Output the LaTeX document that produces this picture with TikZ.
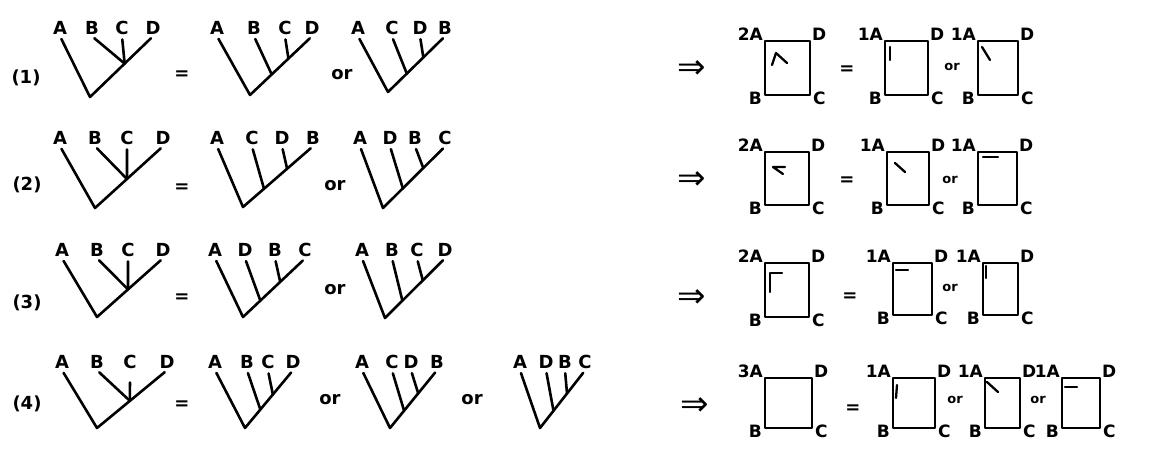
\documentclass[tikz,border=0pt]{standalone}
\usepackage{fontspec}
\setmainfont{DejaVu Sans}
\usetikzlibrary{calc}

\tikzset{
  lbl/.style={inner sep=1.5pt, font=\bfseries\fontsize{18}{20}\selectfont},
  cnr/.style={inner sep=0pt, font=\bfseries\fontsize{17}{19}\selectfont},
  orsm/.style={inner sep=1pt, font=\bfseries\fontsize{13}{14}\selectfont},
  imp/.style={inner sep=0pt, font=\fontsize{34}{36}\selectfont},
  br/.style={line width=2.6pt, line cap=round, line join=round},
  stem/.style={br, shorten <=3pt, shorten >=3pt},
  twig/.style={br, shorten <=3pt},
  tick/.style={line width=2.3pt, line cap=round, line join=round},
}

% square with the four corner labels
\newcommand{\quartetbox}[6]{%
  \coordinate (#1nw) at (#2,#3);
  \coordinate (#1se) at (#4,#5);
  \draw[br] (#1nw) rectangle (#1se);
  \node[cnr, anchor=base east] (#1A) at (#2-2,#3-1) {#6A};
  \node[cnr, anchor=base west] (#1D) at (#4+2,#3-1) {D};
  \node[cnr, anchor=base east] (#1B) at (#2-3,#5+9) {B};
  \node[cnr, anchor=base west] (#1C) at (#4+3,#5+9) {C};
}

\begin{document}
\begin{tikzpicture}[x=1pt, y=-1pt]
  \useasboundingbox (0,0) rectangle (1159,450);

  % ---- row (1)
  \node[lbl] (n1) at (26,78) {(1)};
  \node[lbl] (t11A) at (60,28) {A};
  \node[lbl] (t11B) at (92,28) {B};
  \node[lbl] (t11C) at (122,28) {C};
  \node[lbl] (t11D) at (153,28) {D};
  \coordinate (t11r) at (90,97);
  \coordinate (t11j) at ($(t11r)!0.55!(t11D.south)$);
  \draw[stem] (t11A.south) -- (t11r) -- (t11D.south);
  \draw[twig] (t11B.south) -- (t11j);
  \draw[twig] (t11C.south) -- (t11j);

  \node[lbl] (eq1) at (182,75) {=};

  \node[lbl] (t12A) at (217,28) {A};
  \node[lbl] (t12B) at (254,28) {B};
  \node[lbl] (t12C) at (285,28) {C};
  \node[lbl] (t12D) at (312,28) {D};
  \coordinate (t12r) at (250,95);
  \draw[stem] (t12A.south) -- (t12r) -- (t12D.south);
  \draw[twig] (t12B.south) -- ($(t12r)!0.35!(t12D.south)$);
  \draw[twig] (t12C.south) -- ($(t12r)!0.62!(t12D.south)$);

  \node[lbl] (or1) at (342,75) {or};

  \node[lbl] (t13A) at (358,28) {A};
  \node[lbl] (t13C) at (392,28) {C};
  \node[lbl] (t13D) at (420,28) {D};
  \node[lbl] (t13B) at (445,28) {B};
  \coordinate (t13r) at (388,92);
  \draw[stem] (t13A.south) -- (t13r) -- (t13B.south);
  \draw[twig] (t13C.south) -- ($(t13r)!0.33!(t13B.south)$);
  \draw[twig] (t13D.south) -- ($(t13r)!0.62!(t13B.south)$);

  \node[imp] (imp1) at (692,70) {⇒};
  \quartetbox{b11}{765}{41}{810}{95}{2}
  \draw[tick, shift={(b11nw)}] (7,24) -- (11,12) -- (22,22);
  \node[lbl] (eqb1) at (847,70) {=};
  \quartetbox{b12}{885}{41}{928}{95}{1}
  \draw[tick, shift={(b12nw)}] (5,6) -- (5,19);
  \node[orsm] (orb1) at (952,67) {or};
  \quartetbox{b13}{978}{41}{1018}{95}{1}
  \draw[tick, shift={(b13nw)}] (4,6) -- (12,19);

  % ---- row (2)
  \node[lbl] (n2) at (27,185) {(2)};
  \node[lbl] (t21A) at (60,138) {A};
  \node[lbl] (t21B) at (95,138) {B};
  \node[lbl] (t21C) at (127,138) {C};
  \node[lbl] (t21D) at (163,138) {D};
  \coordinate (t21r) at (95,208);
  \coordinate (t21j) at ($(t21r)!0.47!(t21D.south)$);
  \draw[stem] (t21A.south) -- (t21r) -- (t21D.south);
  \draw[twig] (t21B.south) -- (t21j);
  \draw[twig] (t21C.south) -- (t21j);

  \node[lbl] (eq2) at (182,188) {=};

  \node[lbl] (t22A) at (217,138) {A};
  \node[lbl] (t22C) at (252,138) {C};
  \node[lbl] (t22D) at (282,138) {D};
  \node[lbl] (t22B) at (313,138) {B};
  \coordinate (t22r) at (243,207);
  \draw[stem] (t22A.south) -- (t22r) -- (t22B.south);
  \draw[twig] (t22C.south) -- ($(t22r)!0.3!(t22B.south)$);
  \draw[twig] (t22D.south) -- ($(t22r)!0.63!(t22B.south)$);

  \node[lbl] (or2) at (335,186) {or};

  \node[lbl] (t23A) at (360,138) {A};
  \node[lbl] (t23D) at (390,138) {D};
  \node[lbl] (t23B) at (415,138) {B};
  \node[lbl] (t23C) at (445,138) {C};
  \coordinate (t23r) at (383,208);
  \draw[stem] (t23A.south) -- (t23r) -- (t23C.south);
  \draw[twig] (t23D.south) -- ($(t23r)!0.32!(t23C.south)$);
  \draw[twig] (t23B.south) -- ($(t23r)!0.65!(t23C.south)$);

  \node[imp] (imp2) at (692,181) {⇒};
  \quartetbox{b21}{765}{152}{809}{205}{2}
  \draw[tick, shift={(b21nw)}] (20,15) -- (8,15) -- (18,22);
  \node[lbl] (eqb2) at (847,181) {=};
  \quartetbox{b22}{887}{152}{929}{205}{1}
  \draw[tick, shift={(b22nw)}] (8,11) -- (18,20);
  \node[orsm] (orb2) at (950,180) {or};
  \quartetbox{b23}{978}{152}{1017}{205}{1}
  \draw[tick, shift={(b23nw)}] (5,5) -- (20,5);

  % ---- row (3)
  \node[lbl] (n3) at (27,303) {(3)};
  \node[lbl] (t31A) at (62,250) {A};
  \node[lbl] (t31B) at (97,250) {B};
  \node[lbl] (t31C) at (128,250) {C};
  \node[lbl] (t31D) at (163,250) {D};
  \coordinate (t31r) at (97,317);
  \coordinate (t31j) at ($(t31r)!0.47!(t31D.south)$);
  \draw[stem] (t31A.south) -- (t31r) -- (t31D.south);
  \draw[twig] (t31B.south) -- (t31j);
  \draw[twig] (t31C.south) -- (t31j);

  \node[lbl] (eq3) at (182,298) {=};

  \node[lbl] (t32A) at (215,250) {A};
  \node[lbl] (t32D) at (245,250) {D};
  \node[lbl] (t32B) at (275,250) {B};
  \node[lbl] (t32C) at (305,250) {C};
  \coordinate (t32r) at (243,317);
  \draw[stem] (t32A.south) -- (t32r) -- (t32C.south);
  \draw[twig] (t32D.south) -- ($(t32r)!0.28!(t32C.south)$);
  \draw[twig] (t32B.south) -- ($(t32r)!0.6!(t32C.south)$);

  \node[lbl] (or3) at (335,290) {or};

  \node[lbl] (t33A) at (362,250) {A};
  \node[lbl] (t33B) at (392,250) {B};
  \node[lbl] (t33C) at (417,250) {C};
  \node[lbl] (t33D) at (445,250) {D};
  \coordinate (t33r) at (385,318);
  \draw[stem] (t33A.south) -- (t33r) -- (t33D.south);
  \draw[twig] (t33B.south) -- ($(t33r)!0.29!(t33D.south)$);
  \draw[twig] (t33C.south) -- ($(t33r)!0.63!(t33D.south)$);

  \node[imp] (imp3) at (692,299) {⇒};
  \quartetbox{b31}{765}{263}{809}{317}{2}
  \draw[tick, shift={(b31nw)}] (5,29) -- (5,10) -- (17,10);
  \node[lbl] (eqb3) at (850,297) {=};
  \quartetbox{b32}{893}{263}{932}{315}{1}
  \draw[tick, shift={(b32nw)}] (3,7) -- (15,7);
  \node[orsm] (orb3) at (950,288) {or};
  \quartetbox{b33}{983}{263}{1018}{315}{1}
  \draw[tick, shift={(b33nw)}] (3,3) -- (3,15);

  % ---- row (4)
  \node[lbl] (n4) at (27,404) {(4)};
  \node[lbl] (t41A) at (62,362) {A};
  \node[lbl] (t41B) at (97,362) {B};
  \node[lbl] (t41C) at (130,362) {C};
  \node[lbl] (t41D) at (167,362) {D};
  \coordinate (t41r) at (97,428);
  \coordinate (t41j) at ($(t41r)!0.47!(t41D.south)$);
  \draw[stem] (t41A.south) -- (t41r) -- (t41D.south);
  \draw[twig] (t41B.south) -- (t41j);
  \draw[twig, shorten <=12pt] (t41C.south) -- (t41j);

  \node[lbl] (eq4) at (182,405) {=};

  \node[lbl] (t42A) at (215,362) {A};
  \node[lbl] (t42B) at (247,362) {B};
  \node[lbl] (t42C) at (268,362) {C};
  \node[lbl] (t42D) at (293,362) {D};
  \coordinate (t42r) at (245,428);
  \draw[stem] (t42A.south) -- (t42r) -- (t42D.south);
  \draw[twig] (t42B.south) -- ($(t42r)!0.32!(t42D.south)$);
  \draw[twig] (t42C.south) -- ($(t42r)!0.58!(t42D.south)$);

  \node[lbl] (or4) at (330,400) {or};

  \node[lbl] (t43A) at (362,362) {A};
  \node[lbl] (t43C) at (392,362) {C};
  \node[lbl] (t43D) at (411,362) {D};
  \node[lbl] (t43B) at (437,362) {B};
  \coordinate (t43r) at (390,428);
  \draw[stem] (t43A.south) -- (t43r) -- (t43B.south);
  \draw[twig] (t43C.south) -- ($(t43r)!0.3!(t43B.south)$);
  \draw[twig] (t43D.south) -- ($(t43r)!0.6!(t43B.south)$);

  \node[lbl] (or5) at (472,400) {or};

  \node[lbl] (t44A) at (520,362) {A};
  \node[lbl] (t44D) at (546,362) {D};
  \node[lbl] (t44B) at (565,362) {B};
  \node[lbl] (t44C) at (585,362) {C};
  \coordinate (t44r) at (540,428);
  \draw[stem] (t44A.south) -- (t44r) -- (t44C.south);
  \draw[twig] (t44D.south) -- ($(t44r)!0.3!(t44C.south)$);
  \draw[twig] (t44B.south) -- ($(t44r)!0.6!(t44C.south)$);

  \node[imp] (imp4) at (695,407) {⇒};
  \quartetbox{b41}{765}{378}{812}{428}{3}
  \node[lbl] (eqb4) at (853,409) {=};
  \quartetbox{b42}{893}{378}{935}{428}{1}
  \draw[tick, shift={(b42nw)}] (4,7) -- (3,20);
  \node[orsm] (orb4) at (955,400) {or};
  \quartetbox{b43}{985}{378}{1020}{428}{1}
  \draw[tick, shift={(b43nw)}] (2,4) -- (13,14);
  \node[orsm] (orb5) at (1038,400) {or};
  \quartetbox{b44}{1062}{378}{1100}{428}{1}
  \draw[tick, shift={(b44nw)}] (3,9) -- (15,9);
\end{tikzpicture}
\end{document}
